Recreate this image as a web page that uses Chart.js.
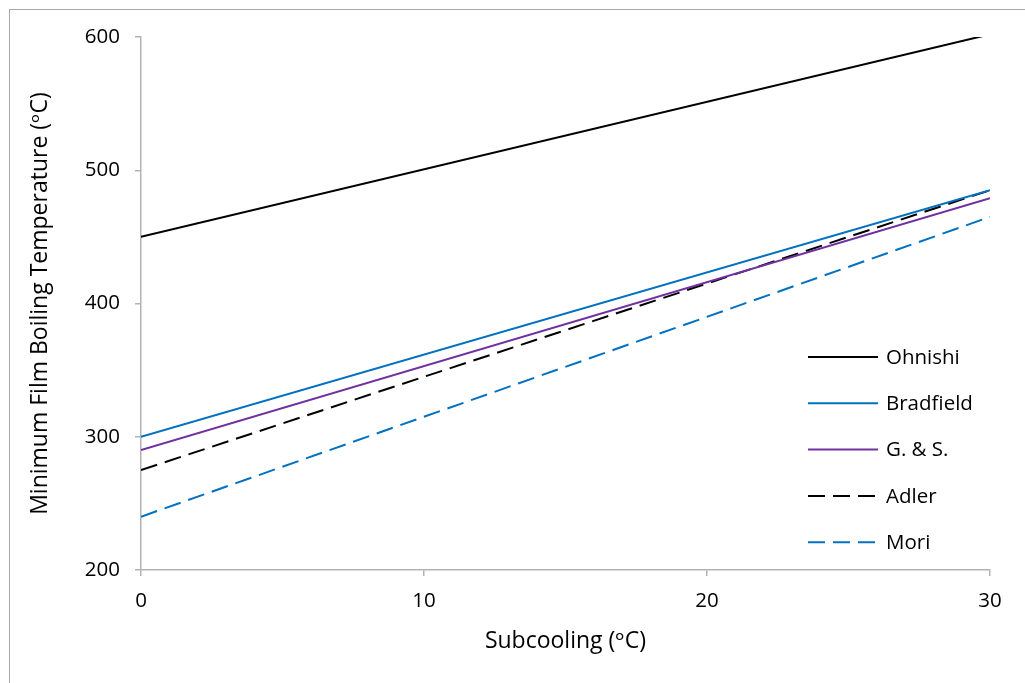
<!DOCTYPE html>
<html>
<head>
<meta charset="utf-8">
<script src="https://cdn.jsdelivr.net/npm/chart.js@4"></script>
<style>
  html, body { margin: 0; padding: 0; background: #fff; }
  #wrap { position: relative; width: 1025px; height: 683px; }
  #frame { position: absolute; left: 9px; top: 9px; width: 1030px; height: 700px;
           border-left: 1px solid #a6a6a6; border-top: 1px solid #a6a6a6; }
  canvas { position: absolute; left: 0; top: 0; }
</style>
</head>
<body>
<div id="wrap">
  <div id="frame"></div>
  <canvas id="chart" width="1025" height="683"></canvas>
</div>
<script>
// x values (subcooling, oC)
const subcooling = [0, 30];
// minimum film boiling temperature (oC) per correlation
const ohnishi = [450, 602];
const bradfield = [300, 485];
const gs = [290, 479];
const adler = [275, 485];
const mori = [240, 465];

const yTicks = [200, 300, 400, 500, 600];
const xTicks = [0, 10, 20, 30];

const FONT = "'Open Sans', 'DejaVu Sans', sans-serif";

function pts(ys) {
    return subcooling.map((x, i) => ({ x: x, y: ys[i] }));
}

const data = {
    datasets: [
        { label: 'Ohnishi', data: pts(ohnishi), borderColor: '#000000', borderDash: [], clip: 0 },
        { label: 'Bradfield', data: pts(bradfield), borderColor: '#0070C0', borderDash: [] },
        { label: 'G. & S.', data: pts(gs), borderColor: '#7030A0', borderDash: [] },
        { label: 'Adler', data: pts(adler), borderColor: '#000000', borderDash: [17, 8] },
        { label: 'Mori', data: pts(mori), borderColor: '#0070C0', borderDash: [17, 8] },
    ]
};

//legend drawn inside plot area
const insideLegend = {
    id: 'insideLegend',
    afterDraw(chart) {
        const ctx = chart.ctx;
        const x0 = 808, x1 = 878, tx = 886;
        let y = 357;
        ctx.save();
        ctx.font = '20.5px ' + FONT;
        ctx.textBaseline = 'middle';
        chart.data.datasets.forEach(ds => {
            ctx.strokeStyle = ds.borderColor;
            ctx.lineWidth = 2;
            ctx.setLineDash(ds.borderDash);
            ctx.beginPath();
            ctx.moveTo(x0, y);
            ctx.lineTo(x1, y);
            ctx.stroke();
            ctx.setLineDash([]);
            ctx.fillStyle = '#000';
            ctx.fillText(ds.label, tx, y + 1);
            y += 46.3;
        });
        ctx.restore();
    }
};

const config = {
    type: 'line',
    data,
    options: {
        responsive: false,
        animation: false,
        elements: {
            line: { borderWidth: 2, tension: 0 },
            point: { radius: 0 }
        },
        layout: { padding: { left: 27, top: 37, right: 35, bottom: 28 } },
        plugins: {
            legend: { display: false },
            tooltip: { enabled: false }
        },
        scales: {
            x: {
                type: 'linear',
                min: 0,
                max: 30,
                afterBuildTicks: s => { s.ticks = xTicks.map(v => ({ value: v })); },
                afterFit: s => { s.height = 85; },
                grid: { drawOnChartArea: false, drawTicks: true, tickLength: 6, color: '#b3b3b3', lineWidth: 1.5 },
                border: { color: '#b3b3b3', width: 1.5 },
                ticks: { color: '#000', font: { size: 20.5, family: FONT }, padding: 13, maxRotation: 0 },
                title: { display: true, text: 'Subcooling (ᵒC)', color: '#000',
                         font: { size: 23, family: FONT }, padding: 0 }
            },
            y: {
                min: 200,
                max: 600,
                afterBuildTicks: s => { s.ticks = yTicks.map(v => ({ value: v })); },
                afterFit: s => { s.width = 114; },
                grid: { drawOnChartArea: false, drawTicks: true, tickLength: 6, color: '#b3b3b3', lineWidth: 1.5 },
                border: { color: '#b3b3b3', width: 1.5 },
                ticks: { color: '#000', font: { size: 20.5, family: FONT }, padding: 15 },
                title: { display: true, text: 'Minimum Film Boiling Temperature (ᵒC)', color: '#000',
                         font: { size: 23, family: FONT }, padding: 0 }
            }
        }
    },
    plugins: [insideLegend]
};

const chart = new Chart(document.getElementById('chart'), config);
</script>
</body>
</html>
